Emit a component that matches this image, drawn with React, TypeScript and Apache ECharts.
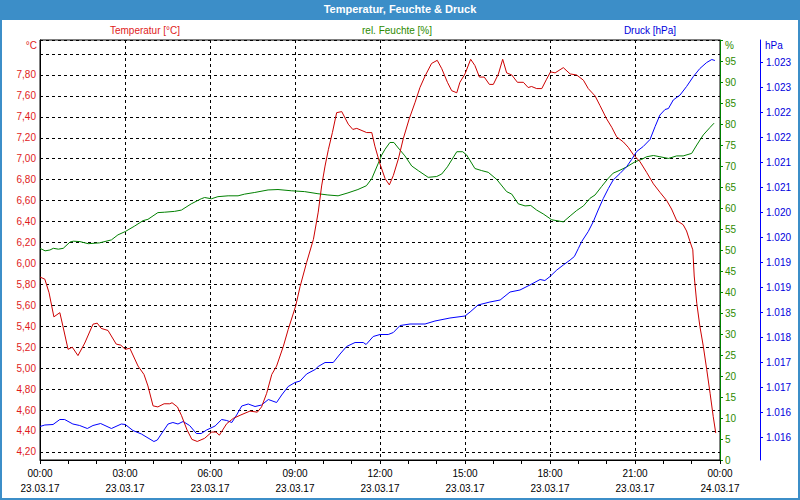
import { useEffect, useRef } from 'react';
import * as echarts from 'echarts';

const chartTitle = 'Temperatur, Feuchte & Druck';
const seriesNames = ['Temperatur [°C]', 'rel. Feuchte [%]', 'Druck [hPa]'];
const unitLabels = ['°C', '%', 'hPa'];

const xTickTimes = ['00:00', '03:00', '06:00', '09:00', '12:00', '15:00', '18:00', '21:00', '00:00'];
const xTickDates = ['23.03.17', '23.03.17', '23.03.17', '23.03.17', '23.03.17', '23.03.17', '23.03.17', '23.03.17', '24.03.17'];

const tempHours = [0.00, 0.17, 0.32, 0.49, 0.70, 0.81, 0.99, 1.14, 1.34, 1.58, 1.87, 2.02, 2.16, 2.40, 2.69, 2.85, 3.01, 3.17, 3.46, 3.67, 3.81, 3.99, 4.16, 4.38, 4.58, 4.66, 4.85, 4.99, 5.19, 5.36, 5.55, 5.81, 6.06, 6.21, 6.33, 6.59, 6.82, 7.06, 7.41, 7.67, 7.82, 8.00, 8.18, 8.35, 8.59, 8.76, 9.02, 9.18, 9.41, 9.65, 9.82, 9.94, 10.06, 10.18, 10.32, 10.47, 10.65, 10.88, 11.04, 11.18, 11.53, 11.71, 11.82, 12.00, 12.18, 12.33, 12.47, 12.65, 12.82, 13.03, 13.24, 13.41, 13.59, 13.82, 14.02, 14.18, 14.38, 14.53, 14.71, 14.82, 15.00, 15.20, 15.35, 15.51, 15.68, 15.86, 16.00, 16.18, 16.33, 16.47, 16.65, 16.85, 17.06, 17.23, 17.35, 17.53, 17.71, 17.88, 18.02, 18.18, 18.47, 18.71, 18.94, 19.18, 19.35, 19.59, 19.76, 20.00, 20.18, 20.35, 20.59, 20.76, 20.94, 21.18, 21.41, 21.65, 21.88, 22.12, 22.29, 22.47, 22.70, 22.82, 22.94, 23.04, 23.09, 23.18, 23.29, 23.41, 23.53, 23.65, 23.76, 23.85];
const tempValues = [5.87, 5.85, 5.72, 5.49, 5.53, 5.40, 5.18, 5.20, 5.12, 5.24, 5.42, 5.43, 5.38, 5.36, 5.23, 5.22, 5.18, 5.19, 5.02, 4.94, 4.83, 4.64, 4.63, 4.66, 4.66, 4.67, 4.63, 4.55, 4.41, 4.32, 4.30, 4.33, 4.39, 4.39, 4.36, 4.47, 4.52, 4.55, 4.59, 4.58, 4.63, 4.76, 4.94, 5.02, 5.21, 5.37, 5.59, 5.78, 6.01, 6.23, 6.49, 6.74, 6.93, 7.09, 7.25, 7.44, 7.45, 7.33, 7.28, 7.29, 7.25, 7.25, 7.12, 6.95, 6.81, 6.75, 6.84, 7.00, 7.19, 7.38, 7.54, 7.68, 7.79, 7.91, 7.94, 7.86, 7.73, 7.65, 7.63, 7.73, 7.81, 7.95, 7.89, 7.78, 7.78, 7.71, 7.71, 7.81, 7.95, 7.82, 7.80, 7.73, 7.73, 7.68, 7.69, 7.67, 7.67, 7.76, 7.83, 7.82, 7.87, 7.81, 7.80, 7.75, 7.67, 7.60, 7.51, 7.38, 7.30, 7.21, 7.16, 7.11, 7.04, 6.97, 6.87, 6.76, 6.68, 6.60, 6.52, 6.41, 6.37, 6.31, 6.21, 6.13, 5.88, 5.62, 5.40, 5.21, 4.99, 4.76, 4.54, 4.38];

const humHours = [0.00, 0.18, 0.35, 0.47, 0.65, 0.82, 1.06, 1.18, 1.41, 1.70, 2.10, 2.52, 2.75, 3.01, 3.34, 3.64, 3.81, 4.16, 4.40, 4.75, 4.99, 5.34, 5.69, 5.81, 6.05, 6.28, 6.64, 6.99, 7.22, 7.58, 8.05, 8.40, 8.87, 9.34, 9.81, 10.16, 10.52, 10.87, 11.22, 11.52, 11.71, 11.93, 12.06, 12.18, 12.35, 12.49, 12.68, 12.88, 13.12, 13.35, 13.70, 14.00, 14.18, 14.38, 14.71, 14.92, 15.06, 15.35, 15.59, 15.82, 16.12, 16.47, 16.65, 16.88, 17.12, 17.32, 17.53, 17.76, 18.06, 18.47, 18.71, 18.94, 19.18, 19.41, 19.59, 19.82, 20.06, 20.23, 20.47, 20.71, 21.00, 21.24, 21.41, 21.65, 21.88, 22.18, 22.47, 22.70, 23.00, 23.18, 23.41, 23.65, 23.79];
const humValues = [50.4, 49.8, 50.0, 50.4, 50.2, 50.4, 51.9, 52.1, 52.0, 51.5, 51.7, 52.4, 53.6, 54.4, 55.7, 57.0, 57.3, 58.9, 59.0, 59.2, 59.5, 61.0, 62.2, 62.5, 62.2, 62.7, 62.9, 62.9, 63.3, 63.7, 64.3, 64.4, 64.1, 63.9, 63.4, 63.1, 62.9, 63.6, 64.4, 65.3, 67.0, 70.5, 72.6, 74.0, 75.6, 75.6, 74.0, 72.4, 70.0, 68.9, 67.3, 67.5, 68.1, 69.8, 73.4, 73.4, 72.6, 69.4, 68.9, 68.5, 66.8, 63.9, 63.3, 61.0, 60.5, 60.6, 59.5, 58.6, 57.2, 56.7, 58.1, 59.4, 60.5, 62.3, 63.1, 65.1, 67.1, 68.3, 69.0, 69.8, 71.0, 71.6, 72.2, 72.5, 72.2, 71.8, 72.4, 72.4, 73.0, 75.0, 77.4, 79.2, 80.2];

const presHours = [0.00, 0.17, 0.46, 0.70, 0.87, 1.16, 1.40, 1.67, 1.87, 2.14, 2.52, 2.87, 3.01, 3.28, 3.58, 4.02, 4.14, 4.34, 4.52, 4.69, 4.87, 5.05, 5.28, 5.52, 5.69, 5.88, 6.18, 6.41, 6.59, 6.77, 6.94, 7.12, 7.35, 7.59, 7.82, 8.06, 8.35, 8.53, 8.76, 9.00, 9.18, 9.41, 9.71, 9.82, 10.06, 10.35, 10.59, 10.82, 11.12, 11.41, 11.51, 11.76, 12.00, 12.29, 12.47, 12.71, 13.06, 13.59, 13.94, 14.47, 15.00, 15.18, 15.46, 15.88, 16.24, 16.59, 16.94, 17.29, 17.65, 17.82, 18.00, 18.24, 18.47, 18.71, 18.86, 19.00, 19.12, 19.35, 19.53, 19.70, 19.88, 20.06, 20.23, 20.47, 20.71, 20.88, 21.06, 21.29, 21.53, 21.71, 21.88, 22.06, 22.18, 22.35, 22.59, 22.82, 23.06, 23.29, 23.53, 23.71, 23.82];
const presValues = [1016.21, 1016.24, 1016.25, 1016.35, 1016.35, 1016.26, 1016.23, 1016.17, 1016.23, 1016.27, 1016.17, 1016.26, 1016.25, 1016.13, 1016.06, 1015.91, 1015.94, 1016.11, 1016.26, 1016.29, 1016.26, 1016.31, 1016.23, 1016.07, 1016.07, 1016.14, 1016.22, 1016.35, 1016.33, 1016.29, 1016.44, 1016.62, 1016.66, 1016.61, 1016.64, 1016.75, 1016.69, 1016.84, 1017.01, 1017.09, 1017.12, 1017.26, 1017.35, 1017.41, 1017.49, 1017.49, 1017.66, 1017.81, 1017.89, 1017.89, 1017.85, 1018.01, 1018.05, 1018.05, 1018.09, 1018.23, 1018.26, 1018.26, 1018.32, 1018.38, 1018.42, 1018.50, 1018.64, 1018.70, 1018.74, 1018.90, 1018.94, 1019.04, 1019.15, 1019.13, 1019.21, 1019.34, 1019.44, 1019.54, 1019.61, 1019.77, 1019.91, 1020.11, 1020.31, 1020.54, 1020.77, 1020.97, 1021.14, 1021.27, 1021.41, 1021.55, 1021.71, 1021.81, 1021.95, 1022.21, 1022.44, 1022.55, 1022.57, 1022.74, 1022.84, 1023.01, 1023.21, 1023.37, 1023.49, 1023.55, 1023.53];

const FONT = '"Liberation Sans", Arial, sans-serif';
const BAR = '#3c8ec8';
const RED_LINE = '#cc0000';
const RED_TEXT = '#e01b1b';
const GREEN_LINE = '#008000';
const GREEN_TEXT = '#2c8a00';
const BLUE_LINE = '#0000ff';
const BLUE_TEXT = '#0000dd';

const zip = (xs: number[], ys: number[]) => xs.map((x, i) => [x, ys[i]]);

export default function App() {
  const ref = useRef<HTMLDivElement>(null);
  useEffect(() => {
    const chart = echarts.init(ref.current!, null, { renderer: 'svg' });
    chart.setOption({
      animation: false,
      backgroundColor: '#ffffff',
      textStyle: { fontFamily: FONT },
      grid: { left: 40, top: 40, width: 680, height: 420, show: true, borderColor: '#000', borderWidth: 1, backgroundColor: 'transparent' },
      xAxis: {
        type: 'value', min: 0, max: 24, interval: 3,
        axisLine: { show: true, lineStyle: { color: '#000', width: 1 } },
        axisTick: { show: true, length: 4, lineStyle: { color: '#000' } },
        minorTick: { show: true, splitNumber: 3, length: 4, lineStyle: { color: '#000' } },
        splitLine: { show: true, lineStyle: { color: '#000', type: [3, 3], width: 1 } },
        axisLabel: {
          color: '#000', fontSize: 10, fontFamily: FONT, margin: 6, lineHeight: 15,
          formatter: (v: number) => { const i = Math.round(v / 3); return xTickTimes[i] + '\n' + xTickDates[i]; },
        },
      },
      yAxis: [
        {
          type: 'value', min: 4.123, max: 8.134, splitNumber: 20, position: 'left',
          axisLine: { show: true, lineStyle: { color: '#000' } },
          axisTick: { show: false },
          splitLine: { show: true, lineStyle: { color: '#000', type: [3, 3], width: 1 } },
          axisLabel: {
            color: RED_TEXT, fontSize: 10, fontFamily: FONT, margin: 4, showMinLabel: false, showMaxLabel: false,
            formatter: (v: number) => (Math.abs(v - 8) < 1e-6 ? '' : v.toFixed(2).replace('.', ',')),
          },
        },
        {
          type: 'value', min: 0, max: 100, interval: 5, position: 'right',
          axisLine: { show: true, lineStyle: { color: GREEN_LINE, width: 1 } },
          axisTick: { show: true, length: 3, lineStyle: { color: GREEN_LINE } },
          splitLine: { show: false },
          axisLabel: {
            color: GREEN_TEXT, fontSize: 10, fontFamily: FONT, margin: 5,
            formatter: (v: number) => (v >= 100 ? '' : String(v)),
          },
        },
        {
          type: 'value', min: 1015.54, max: 1023.94, splitNumber: 16, position: 'right', offset: 40,
          axisLine: { show: true, lineStyle: { color: BLUE_LINE, width: 1 } },
          axisTick: { show: true, length: 3, lineStyle: { color: BLUE_LINE } },
          splitLine: { show: false },
          axisLabel: {
            color: BLUE_TEXT, fontSize: 10, fontFamily: FONT, margin: 6, showMinLabel: false, showMaxLabel: false,
            formatter: (v: number) => { const r = Math.round(v - 0.25); return Math.floor(r / 1000) + '.' + String(r % 1000).padStart(3, '0'); },
          },
        },
      ],
      series: [
        { name: seriesNames[1], type: 'line', yAxisIndex: 1, showSymbol: false, data: zip(humHours, humValues), lineStyle: { color: GREEN_LINE, width: 1 }, itemStyle: { color: GREEN_LINE } },
        { name: seriesNames[2], type: 'line', yAxisIndex: 2, showSymbol: false, data: zip(presHours, presValues), lineStyle: { color: BLUE_LINE, width: 1 }, itemStyle: { color: BLUE_LINE } },
        { name: seriesNames[0], type: 'line', yAxisIndex: 0, showSymbol: false, data: zip(tempHours, tempValues), lineStyle: { color: RED_LINE, width: 1 }, itemStyle: { color: RED_LINE } },
      ],
      graphic: [
        { type: 'rect', shape: { x: 0, y: 0, width: 800, height: 20 }, style: { fill: BAR }, z: 10 },
        { type: 'text', x: 400, y: 9, style: { text: chartTitle, fill: '#fff', font: 'bold 11px ' + FONT, textAlign: 'center', textVerticalAlign: 'middle' }, z: 11 },
        { type: 'rect', shape: { x: 1, y: 1, width: 798, height: 498 }, style: { fill: 'none', stroke: BAR, lineWidth: 2 }, z: 10 },
        { type: 'text', x: 145, y: 30, style: { text: seriesNames[0], fill: RED_TEXT, font: '10px ' + FONT, textAlign: 'center', textVerticalAlign: 'middle' } },
        { type: 'text', x: 397, y: 30, style: { text: seriesNames[1], fill: GREEN_TEXT, font: '10px ' + FONT, textAlign: 'center', textVerticalAlign: 'middle' } },
        { type: 'text', x: 650, y: 30, style: { text: seriesNames[2], fill: BLUE_TEXT, font: '10px ' + FONT, textAlign: 'center', textVerticalAlign: 'middle' } },
        { type: 'text', x: 37, y: 45, style: { text: unitLabels[0], fill: RED_TEXT, font: '10px ' + FONT, textAlign: 'right', textVerticalAlign: 'middle' } },
        { type: 'text', x: 725, y: 45, style: { text: unitLabels[1], fill: GREEN_TEXT, font: '10px ' + FONT, textAlign: 'left', textVerticalAlign: 'middle' } },
        { type: 'text', x: 765, y: 45, style: { text: unitLabels[2], fill: BLUE_TEXT, font: '10px ' + FONT, textAlign: 'left', textVerticalAlign: 'middle' } },
      ],
    });
    return () => chart.dispose();
  }, []);
  return <div ref={ref} style={{ position: 'fixed', left: 0, top: 0, width: 800, height: 500, background: '#fff' }} />;
}
